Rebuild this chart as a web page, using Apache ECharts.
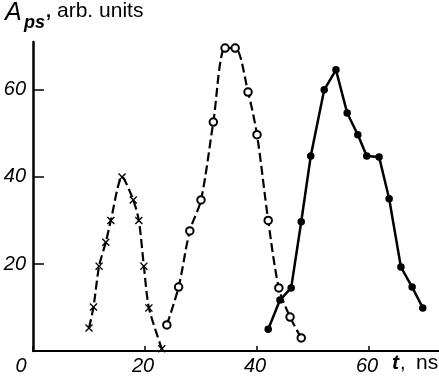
<!DOCTYPE html>
<html>
<head>
<meta charset="utf-8">
<script src="https://cdn.jsdelivr.net/npm/echarts@6/dist/echarts.min.js"></script>
<style>html,body{margin:0;padding:0;background:#fff;}#c{width:439px;height:381px;}</style>
</head>
<body>
<div id="c"></div>
<script>
// Series: crosses (dashed), open circles (dashed), filled dots (solid)
var crossT = [10.0, 10.8, 11.8, 13.0, 13.9, 15.9, 17.9, 18.9, 19.8, 20.7, 23.0];
var crossA = [5.3, 10.1, 19.5, 25, 30, 40, 34.7, 30, 19.5, 9.9, 0.5];
var circT = [23.9, 26.0, 28.0, 30.0, 32.2, 34.3, 36.1, 38.4, 40.0, 42.0, 43.9, 45.9, 47.9];
var circA = [6, 14.7, 27.6, 34.7, 52.6, 69.6, 69.6, 59.5, 49.7, 30, 14.5, 7.8, 3];
var dotT = [42.0, 44.1, 46.1, 47.9, 49.6, 52.0, 54.1, 56.1, 58.0, 59.6, 61.8, 63.6, 65.7, 67.7, 69.6];
var dotA = [5, 11.7, 14.5, 29.7, 44.8, 60, 64.6, 54.7, 49.7, 44.8, 44.6, 35, 19.3, 14.7, 9.9];
var xTicks = [0, 20, 40, 60];
var yTicks = [20, 40, 60];

function pairs(t, a) { return t.map(function (v, i) { return [v, a[i]]; }); }

var FONT = '"Liberation Sans", Arial, sans-serif';
var crossPath = 'path://M0,1.2L1.2,0L5,3.8L8.8,0L10,1.2L6.2,5L10,8.8L8.8,10L5,6.2L1.2,10L0,8.8L3.8,5Z';

var chart = echarts.init(document.getElementById('c'), null, {renderer: 'canvas'});
chart.setOption({
  animation: false,
  backgroundColor: '#fff',
  grid: {left: 33, right: 0, top: 42, bottom: 30, containLabel: false},
  xAxis: {
    type: 'value', min: 0, max: 72.5, interval: 20,
    axisLine: {show: true, onZero: false, lineStyle: {color: '#000', width: 2}},
    axisTick: {show: true, inside: true, length: 5, lineStyle: {color: '#000', width: 1.5}},
    splitLine: {show: false},
    axisLabel: {
      showMaxLabel: false, margin: 5, color: '#000',
      fontFamily: FONT, fontStyle: 'italic', fontSize: 20,
      formatter: function (v) {
        if (xTicks.indexOf(v) < 0) return '';
        return v === 0 ? '{z|0}' : '{n|' + v + '}';
      },
      rich: {
        z: {fontFamily: FONT, fontStyle: 'italic', fontSize: 20, color: '#000', padding: [0, 24, 0, 0]},
        n: {fontFamily: FONT, fontStyle: 'italic', fontSize: 20, color: '#000', padding: [0, 4, 0, 0]}
      }
    }
  },
  yAxis: {
    type: 'value', min: 0, max: 71, interval: 20,
    axisLine: {show: true, onZero: false, lineStyle: {color: '#000', width: 2.5}},
    axisTick: {show: true, inside: true, length: 11, lineStyle: {color: '#000', width: 1.5}},
    splitLine: {show: false},
    axisLabel: {
      showMaxLabel: false, showMinLabel: false, margin: 7, color: '#000',
      fontFamily: FONT, fontStyle: 'italic', fontSize: 20,
      formatter: function (v) { return yTicks.indexOf(v) >= 0 ? String(v) : ''; }
    }
  },
  series: [
    {
      type: 'line', data: pairs(crossT, crossA), smooth: 0.25,
      symbol: crossPath, symbolSize: 8, showAllSymbol: true,
      lineStyle: {color: '#000', width: 2.2, type: [9, 4]},
      itemStyle: {color: '#000'}
    },
    {
      type: 'line', data: pairs(circT, circA), smooth: 0.3,
      symbol: 'emptyCircle', symbolSize: 7.5, showAllSymbol: true,
      lineStyle: {color: '#000', width: 2.2, type: [9, 4]},
      itemStyle: {color: '#000', borderColor: '#000', borderWidth: 1.7}
    },
    {
      type: 'line', data: pairs(dotT, dotA), smooth: false,
      symbol: 'circle', symbolSize: 7.5, showAllSymbol: true,
      lineStyle: {color: '#000', width: 2.5},
      itemStyle: {color: '#000'}
    }
  ],
  graphic: [
    {type: 'text', x: 5, y: 1, style: {text: 'A', font: 'italic 25px ' + FONT, fill: '#000'}},
    {type: 'text', x: 24, y: 14, style: {text: 'ps', font: 'italic bold 18px ' + FONT, fill: '#000'}},
    {type: 'text', x: 46, y: 3, style: {text: ',', font: 'bold 18px ' + FONT, fill: '#000'}},
    {type: 'text', x: 57, y: 1, style: {text: 'arb. units', font: '21px ' + FONT, fill: '#000'}},
    {type: 'text', x: 392, y: 353, style: {text: 't', font: 'italic bold 21px ' + FONT, fill: '#000'}},
    {type: 'text', x: 400, y: 353, style: {text: ',', font: '20px ' + FONT, fill: '#000'}},
    {type: 'text', x: 416, y: 353, style: {text: 'ns', font: '21px ' + FONT, fill: '#000'}}
  ]
});
</script>
</body>
</html>
